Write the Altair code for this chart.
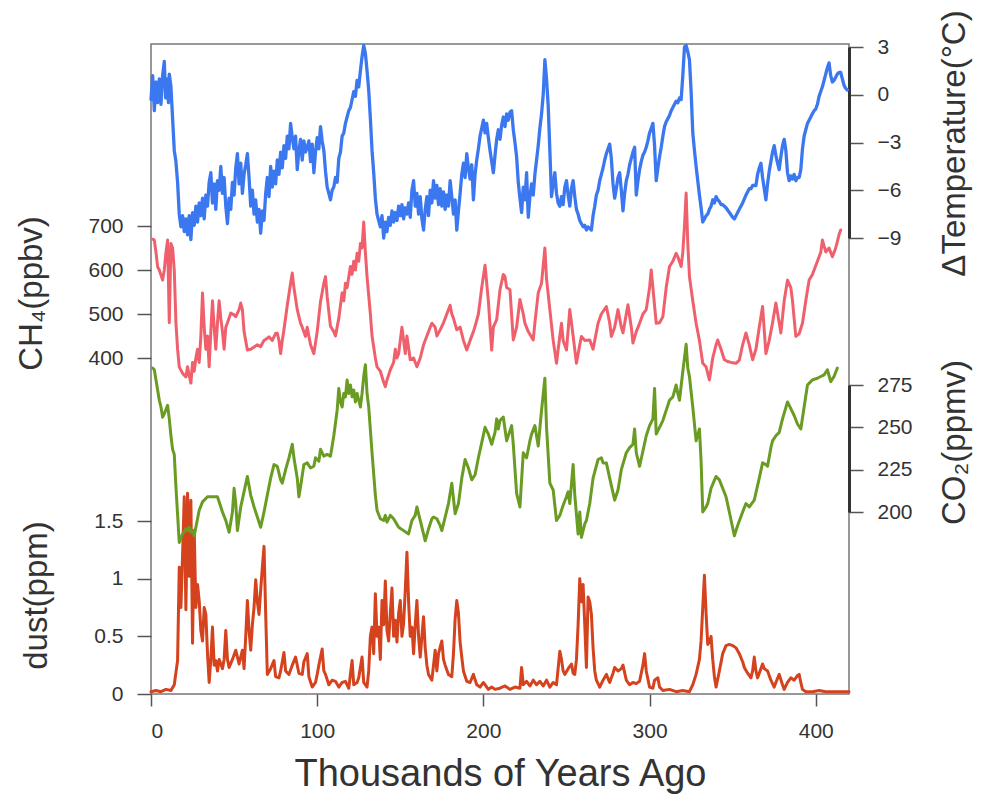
import altair as alt
import pandas as pd

# ---------------- data ----------------
temp_kyr = [0, 1, 2, 3, 4, 5, 6, 7, 8, 8.8, 9.5, 10.5, 11, 12, 13, 14, 15, 16, 17, 18, 19, 20,
            21, 22, 23, 24, 25, 26, 27, 28, 29, 30, 31, 32, 33, 34, 35, 36, 37, 38, 39, 40,
            41, 42, 43, 44, 45, 46, 47, 48, 49, 50, 51, 52, 53, 54, 55, 56, 57, 58, 59, 60,
            61, 62, 63, 64, 65, 66, 67, 68, 69, 70, 71, 72, 73, 74, 75, 76, 77, 78, 79, 80,
            81, 82, 83, 84, 85, 86, 87, 88, 89, 90, 91, 92, 93, 94, 95, 96, 97, 98, 99, 100,
            101, 102, 103, 104, 105, 106, 107, 108, 109, 110, 111, 112, 113, 114, 115, 116, 117, 118, 119, 120,
            121, 122, 123, 124, 125, 126, 127, 128, 129, 130, 131, 132, 133, 134, 135, 136, 137, 138, 139, 140,
            141, 142, 143, 144, 145, 146, 147, 148, 149, 150, 151, 152, 153, 154, 155, 156, 157, 158, 159, 160,
            161, 162, 163, 164, 165, 166, 167, 168, 169, 170, 171, 172, 173, 174, 175, 176, 177, 178, 179, 180,
            181, 182, 183, 184, 185, 186, 187, 188, 189, 190, 191, 192, 193, 194, 195, 196, 197, 198, 199, 200,
            201, 202, 203, 204, 205, 206, 207, 208, 209, 210, 211, 212, 213, 214, 215, 216, 217, 218, 219, 220,
            221, 222, 223, 224, 225, 226, 227, 228, 229, 230, 231, 232, 233, 234, 235, 236, 237, 238, 239, 240,
            241, 242, 243, 244, 245, 246, 247, 248, 249, 250, 251, 252, 253, 254, 255, 256, 257, 258, 259, 260,
            261, 262, 263, 264, 265, 266, 267, 268, 269, 270, 271, 272, 273, 274, 275, 276, 277, 278, 279, 280,
            281, 282, 283, 284, 285, 286, 287, 288, 289, 290, 291, 292, 293, 294, 295, 296, 297, 298, 299, 300,
            301, 302, 303, 304, 305, 306, 307, 308, 309, 310, 311, 312, 313, 314, 315, 316, 317, 318, 319, 320,
            321, 322, 323, 324, 325, 326, 327, 328, 329, 330, 331, 332, 333, 334, 335, 336, 337, 338, 339, 340,
            341, 342, 343, 344, 346, 348, 350, 351, 352, 354, 356, 358, 360, 361, 362, 364, 365, 366, 367, 368,
            369, 370, 371, 372, 373, 374, 375, 376, 377, 378, 379, 380, 381, 382, 383, 384, 385, 386, 387, 388,
            389, 390, 391, 392, 393, 394, 395, 396, 397, 398, 399, 400, 401, 402, 403, 404, 405, 406, 407, 408,
            409, 410, 411, 412, 413, 414, 415, 416, 417, 418, 419]
temp_val = [-0.3, 1.2, -1.0, 0.8, -0.5, 1.0, -0.6, 1.2, 2.1, -0.2, 1.0, -0.5, 1.3, 0.5, -1.5, -3.5, -4.2, -5.5, -7.5, -8.3, -7.6, -8.6,
            -7.8, -8.8, -7.6, -9.1, -7.4, -8.2, -7.0, -8.0, -6.8, -7.6, -6.5, -7.8, -6.3, -7.0, -5.5, -4.9, -6.8, -5.6, -7.2, -5.4,
            -6.0, -4.5, -6.2, -5.2, -7.0, -8.1, -6.5, -7.2, -5.5, -6.3, -4.6, -3.7, -5.6, -4.3, -6.2, -5.0, -4.4, -3.7, -5.2, -7.0,
            -6.0, -7.5, -6.6, -8.0, -7.2, -8.7, -7.3, -7.9, -6.2, -5.2, -6.4, -4.5, -5.8, -4.8, -5.6, -4.1, -5.0, -3.6, -4.6, -3.2,
            -4.0, -2.6, -3.4, -1.8, -2.7, -3.4, -2.6, -4.7, -3.5, -2.8, -4.1, -2.9, -3.6, -3.3, -2.9, -4.2, -3.1, -4.9, -3.6, -2.7,
            -3.4, -2.0, -2.9, -3.5, -4.8, -5.8, -6.2, -6.6, -6.0, -5.8, -5.2, -5.5, -4.0, -3.6, -2.6, -2.4, -1.8, -1.4, -1.0, -0.8,
            -0.3, 0.2, -0.1, 0.9, 0.5, 1.5, 2.4, 3.1, 2.6, 1.5, 0.3, -1.5, -3.5, -4.9, -6.5, -7.5, -7.9, -8.3, -7.6, -9.0,
            -8.0, -8.6, -7.7, -8.2, -7.3, -8.0, -7.4, -7.9, -7.0, -7.6, -6.9, -7.8, -7.1, -7.5, -6.8, -7.7, -6.0, -5.4, -7.0, -6.2,
            -7.5, -6.4, -7.8, -8.5, -7.2, -6.4, -7.6, -6.0, -6.8, -5.4, -6.5, -5.7, -6.9, -5.9, -7.0, -6.1, -7.2, -6.3, -7.0, -5.4,
            -6.4, -7.5, -6.6, -8.5, -7.3, -6.2, -5.0, -4.3, -5.2, -3.7, -4.6, -5.3, -4.4, -6.6, -5.0, -4.1, -3.4, -2.6, -2.1, -1.6,
            -2.4, -1.8, -2.7, -3.5, -4.2, -4.9, -3.8, -2.8, -2.2, -2.8, -1.9, -1.4, -2.0, -1.2, -1.6, -1.1, -1.0, -2.2, -3.0, -3.9,
            -5.5, -6.5, -7.4, -5.8, -6.6, -4.9, -7.7, -6.4, -5.6, -6.3, -5.0, -4.1, -3.2, -2.1, -1.2, 0.0, 2.2, 1.0, -0.7, -3.5,
            -6.4, -5.6, -4.9, -6.2, -6.8, -7.0, -6.4, -6.9, -5.8, -5.4, -6.3, -7.0, -5.9, -5.4, -6.4, -7.2, -7.5, -7.9, -8.1, -8.3,
            -8.2, -8.5, -8.3, -8.4, -8.5, -7.6, -7.0, -6.3, -6.0, -5.4, -5.0, -4.6, -4.1, -3.7, -3.4, -3.1, -4.0, -5.6, -6.5, -5.9,
            -5.2, -4.9, -6.0, -7.3, -6.2, -5.4, -5.0, -4.4, -4.0, -3.6, -3.3, -6.3, -5.4, -4.7, -4.2, -3.8, -3.6, -3.3, -2.9, -2.4,
            -2.1, -1.8, -3.2, -5.4, -4.6, -3.9, -3.3, -2.6, -2.0, -1.7, -1.5, -1.3, -1.0, -0.8, -0.6, -0.4, -0.5, -0.2, -0.3, 1.2,
            3.0, 3.1, 2.7, 2.2, 0.2, -2.4, -3.5, -4.5, -5.4, -6.3, -7.1, -8.0, -7.8, -7.6, -7.5, -7.2, -7.0, -6.6, -6.8, -6.4,
            -6.6, -6.7, -6.9, -6.9, -7.1, -7.4, -7.7, -7.8, -7.6, -7.2, -6.8, -6.3, -5.9, -5.9, -5.7, -5.7, -5.0, -4.6, -4.3, -5.2,
            -5.9, -6.6, -5.6, -4.8, -4.2, -3.6, -3.2, -3.8, -4.3, -4.7, -3.9, -3.2, -2.8, -3.5, -4.9, -5.4, -5.1, -5.3, -5.0, -5.4,
            -5.2, -5.2, -4.7, -3.4, -2.6, -2.2, -1.8, -1.6, -1.4, -1.2, -1.0, -0.9, -0.6, -0.1, 0.2, 0.5, 0.9, 1.3, 1.7, 2.0,
            1.2, 0.8, 0.9, 1.1, 1.3, 1.4, 1.4, 1.0, 0.6, 0.4, 0.3]

ch4_kyr = [1, 2, 3, 4, 5, 7, 8, 9, 10, 11, 12, 13, 14, 15, 16, 17, 19, 21, 22, 23, 24, 25, 26, 27, 28, 29, 30,
           31, 32, 33, 34, 35, 36, 37, 38, 39, 40, 41, 42, 43, 44, 45, 46, 48, 50, 51, 53, 54, 55, 56, 58, 60,
           62, 64, 66, 68, 70, 71, 73, 75, 76, 77, 78, 79, 80, 82, 84, 85, 86, 88, 90, 91, 93, 94, 96, 98, 100,
           102, 104, 105, 106, 108, 110, 111, 113, 115, 116, 117, 118, 120, 121, 122, 123, 124, 125, 126, 127,
           128, 129, 130, 132, 133, 135, 136, 138, 140, 141, 142, 144, 146, 147, 148, 149, 150, 151, 152, 153,
           154, 156, 158, 160, 162, 164, 166, 168, 169, 171, 172, 174, 176, 178, 180, 181, 182, 184, 186, 188,
           190, 192, 194, 195, 197, 199, 201, 203, 205, 206, 208, 210, 212, 213, 214, 216, 218, 220, 222, 224,
           225, 227, 230, 231, 233, 235, 237, 238, 240, 242, 244, 245, 247, 248, 250, 252, 254, 256, 258, 259,
           261, 264, 266, 269, 271, 274, 276, 277, 279, 281, 283, 284, 286, 287, 289, 290, 292, 294, 296, 298,
           300, 301, 302, 304, 306, 308, 310, 312, 314, 316, 317, 319, 320, 321, 322, 323, 324, 326, 328, 330,
           332, 334, 336, 338, 340, 341, 343, 345, 347, 349, 352, 354, 356, 358, 360, 362, 364, 366, 368, 370,
           372, 374, 376, 378, 379, 381, 383, 385, 386, 388, 390, 392, 394, 396, 398, 399, 401, 403, 404, 406,
           408, 410, 412, 414, 415]
ch4_val = [670, 668, 640, 607, 600, 577, 600, 640, 668, 480, 660, 650, 600, 480, 420, 380, 365, 357, 380, 360, 343, 390, 370, 400, 420, 390, 450,
           548, 470, 420, 450, 380, 460, 530, 470, 420, 480, 530, 490, 460, 420, 470, 480, 502, 498, 494, 510, 525, 510, 460, 418, 420,
           425, 430, 426, 440, 445, 448, 440, 456, 456, 440, 410, 440, 464, 520, 570, 593, 560, 510, 479, 470, 449, 470, 430, 410, 460,
           528, 570, 585, 540, 472, 460, 450, 490, 548, 530, 570, 560, 608, 590, 620, 600, 638, 620, 660, 650,
           709, 640, 585, 500, 450, 400, 380, 370, 345, 335, 350, 373, 390, 420, 400, 410, 440, 470, 440, 410,
           450, 396, 400, 380, 400, 430, 450, 470, 479, 470, 450, 464, 480, 500, 520, 500, 490, 464, 470, 440,
           418, 440, 460, 472, 500, 560, 611, 530, 418, 470, 487, 555, 590, 585, 560, 555, 441, 470, 533, 500,
           479, 460, 441, 480, 548, 570, 650, 580, 510, 440, 388, 420, 479, 440, 418, 510, 450, 388, 430, 449,
           440, 441, 420, 479, 500, 517, 480, 449, 470, 510, 470, 457, 500, 521, 470, 434, 460, 479, 500, 510,
           560, 600, 560, 479, 480, 494, 560, 608, 620, 638, 630, 608, 640, 700, 775, 660, 585, 530, 479, 440,
           388, 380, 350, 400, 430, 441, 420, 396, 392, 390, 388, 395, 430, 457, 430, 396, 420, 470, 517, 410,
           440, 480, 525, 480, 457, 530, 577, 560, 530, 449, 455, 479, 530, 577, 590, 600, 620, 640, 668, 641,
           650, 630, 650, 680, 691]

co2_kyr = [1, 2, 3, 5, 6, 7, 8, 10, 11, 12, 13, 14, 15, 17, 19, 21, 22, 23, 24, 25, 26, 29, 31, 34, 37, 40,
           43, 45, 47, 49, 50, 51, 52, 54, 56, 58, 60, 62, 64, 66, 68, 70, 72, 74, 76, 78, 79, 81, 83, 85, 86,
           88, 89, 90, 92, 94, 96, 98, 99, 101, 102, 104, 106, 108, 110, 112, 113, 114, 115, 116, 117, 118, 119,
           120, 121, 122, 123, 124, 125, 126, 127, 128, 129, 130, 131, 133, 135, 136, 138, 140, 141, 142, 144,
           146, 149, 152, 155, 157, 159, 160, 162, 165, 167, 169, 170, 172, 174, 175, 177, 179, 181, 183, 185,
           187, 189, 191, 193, 195, 197, 199, 201, 203, 205, 207, 208, 209, 210, 212, 214, 217, 218, 220, 222,
           224, 226, 228, 229, 231, 233, 235, 237, 238, 240, 242, 244, 246, 248, 250, 251, 252, 254, 255, 257,
           258, 259, 261, 262, 264, 266, 269, 271, 272, 274, 276, 279, 281, 283, 286, 288, 290, 291, 292, 294,
           296, 298, 300, 302, 303, 304, 306, 308, 310, 312, 314, 316, 317, 318, 320, 322, 323, 324, 326, 328,
           330, 331, 332, 334, 335, 337, 340, 342, 344, 346, 348, 351, 353, 356, 358, 360, 363, 366, 368, 370,
           371, 373, 374, 376, 378, 380, 383, 385, 387, 389, 391, 393, 395, 398, 401, 403, 405, 407, 409, 411, 413]
co2_val = [285, 284, 278, 266, 262, 256, 258, 263, 255, 245, 237, 234, 215, 182, 187, 190, 189, 191, 188, 189, 186, 201, 206, 209, 209, 209,
           200, 195, 188, 200, 214, 205, 189, 203, 212, 221, 210, 203, 197, 191, 200, 210, 220, 228, 227, 219, 217, 225, 232, 240, 232,
           220, 209, 215, 228, 229, 226, 227, 232, 230, 237, 233, 234, 233, 245, 260, 273, 265, 262, 270, 268, 278, 270,
           275, 268, 272, 265, 270, 266, 262, 270, 280, 287, 270, 262, 235, 210, 201, 196, 195, 198, 194, 198,
           196, 191, 189, 187, 195, 198, 203, 195, 183, 190, 196, 197, 196, 192, 189, 197, 205, 217, 199, 205,
           220, 231, 226, 219, 222, 232, 241, 250, 246, 240, 247, 255, 249, 254, 256, 242, 251, 240, 211, 203,
           235, 232, 242, 246, 251, 239, 260, 279, 250, 217, 213, 195, 198, 204, 209, 212, 205, 228, 210, 187,
           200, 185, 193, 195, 205, 220, 231, 232, 229, 229, 220, 207, 213, 225, 235, 238, 240, 249, 235, 227,
           236, 245, 251, 255, 273, 246, 250, 254, 260, 266, 268, 275, 270, 266, 283, 299, 285, 280, 262, 242,
           249, 230, 200, 203, 205, 214, 221, 219, 214, 209, 200, 186, 192, 200, 205, 203, 207, 220, 229, 228,
           227, 238, 242, 245, 247, 255, 265, 261, 257, 252, 249, 262, 275, 278, 279, 280, 281, 284, 277, 280, 285]

dust_kyr = [0, 3, 6, 9, 12, 14, 16, 17, 18, 19, 20, 21, 22, 23, 24, 25, 26, 27, 28, 29, 30, 31, 32, 33, 34, 35,
            36, 37, 38, 39, 40, 41, 42, 43, 44, 45, 46, 47, 49, 51, 53, 55, 56, 57, 58, 59, 60, 61, 62, 63, 64,
            65, 66, 67, 68, 69, 70, 72, 74, 75, 77, 78, 80, 81, 83, 85, 87, 89, 91, 92, 94, 95, 97, 99, 100, 101,
            103, 104, 105, 107, 109, 111, 113, 115, 117, 119, 121, 122, 124, 125, 127, 128, 130, 131, 132, 133,
            134, 135, 136, 137, 138, 139, 140, 141, 142, 143, 144, 145, 146, 147, 148, 149, 150, 151, 152, 153,
            154, 155, 156, 157, 158, 159, 160, 161, 162, 163, 164, 165, 166, 167, 169, 171, 172, 173, 175, 176,
            177, 179, 181, 182, 183, 184, 185, 186, 187, 188, 190, 192, 194, 196, 198, 200, 203, 205, 207, 210,
            213, 216, 219, 222, 223, 224, 226, 228, 230, 232, 234, 236, 238, 240, 242, 244, 246, 247, 248, 249,
            251, 253, 254, 255, 256, 257, 258, 259, 260, 261, 262, 263, 264, 265, 266, 267, 268, 270, 272, 274,
            276, 278, 279, 281, 283, 284, 286, 288, 290, 292, 294, 296, 297, 298, 300, 302, 303, 305, 306, 308,
            312, 316, 320, 324, 326, 328, 330, 331, 332, 333, 334, 335, 336, 337, 338, 339, 340, 342, 344, 346,
            348, 350, 352, 354, 356, 357, 359, 361, 362, 363, 364, 365, 366, 368, 369, 371, 373, 375, 376, 378,
            380, 381, 383, 385, 387, 389, 390, 391, 392, 394, 398, 402, 406, 410, 415, 420]
dust_val = [0.02, 0.03, 0.02, 0.04, 0.03, 0.08, 0.29, 1.1, 0.75, 1.2, 1.71, 0.73, 1.74, 1.02, 1.68, 0.44, 1.42, 0.75, 0.95, 0.81, 0.55, 0.46, 0.75, 0.69, 0.35, 0.1,
            0.3, 0.58, 0.25, 0.29, 0.2, 0.3, 0.26, 0.22, 0.3, 0.55, 0.3, 0.23, 0.3, 0.38, 0.26, 0.38, 0.22, 0.5, 0.81, 0.55, 0.38, 0.6, 0.75, 0.99, 0.8,
            0.69, 0.9, 1.1, 1.28, 0.7, 0.17, 0.22, 0.29, 0.15, 0.14, 0.2, 0.36, 0.2, 0.17, 0.25, 0.32, 0.18, 0.17, 0.28, 0.35, 0.15, 0.06, 0.1, 0.17, 0.25,
            0.39, 0.2, 0.17, 0.08, 0.12, 0.11, 0.06, 0.1, 0.11, 0.05, 0.29, 0.08, 0.1, 0.14, 0.32, 0.1, 0.06, 0.2, 0.5, 0.58,
            0.35, 0.87, 0.5, 0.58, 0.3, 0.81, 0.6, 0.98, 0.55, 0.46, 0.7, 0.92, 0.5, 0.64, 0.45, 0.7, 0.81, 0.5, 0.61, 0.9,
            1.23, 0.8, 0.5, 0.58, 0.35, 0.6, 0.81, 0.5, 0.32, 0.5, 0.67, 0.4, 0.25, 0.17, 0.12, 0.38, 0.2, 0.35, 0.46, 0.3,
            0.25, 0.17, 0.15, 0.35, 0.65, 0.81, 0.7, 0.45, 0.32, 0.2, 0.11, 0.1, 0.17, 0.08, 0.06, 0.1, 0.04, 0.06, 0.04, 0.05,
            0.07, 0.04, 0.06, 0.05, 0.23, 0.08, 0.11, 0.07, 0.12, 0.08, 0.11, 0.07, 0.12, 0.06, 0.1, 0.08, 0.37, 0.3, 0.2, 0.17,
            0.22, 0.26, 0.18, 0.17, 0.3, 0.6, 1.0, 0.8, 0.95, 0.6, 0.23, 0.84, 0.8, 0.69, 0.4, 0.2, 0.12, 0.06, 0.12, 0.17,
            0.1, 0.18, 0.23, 0.2, 0.22, 0.25, 0.12, 0.08, 0.1, 0.09, 0.11, 0.25, 0.35, 0.2, 0.06, 0.05, 0.12, 0.14, 0.06, 0.03,
            0.04, 0.02, 0.03, 0.02, 0.08, 0.17, 0.3, 0.46, 0.75, 1.03, 0.7, 0.43, 0.45, 0.5, 0.3, 0.15, 0.06, 0.2, 0.35, 0.42,
            0.43, 0.42, 0.4, 0.35, 0.28, 0.23, 0.18, 0.14, 0.2, 0.32, 0.2, 0.14, 0.18, 0.26, 0.22, 0.2, 0.12, 0.06, 0.1, 0.17,
            0.08, 0.04, 0.1, 0.14, 0.12, 0.16, 0.17, 0.1, 0.04, 0.02, 0.02, 0.03, 0.02, 0.02, 0.02, 0.02]

x_ticks = [0, 100, 200, 300, 400]
temp_ticks = [-9, -6, -3, 0, 3]
ch4_ticks = [400, 500, 600, 700]
co2_ticks = [200, 225, 250, 275]
dust_ticks = [0, 0.5, 1, 1.5]

# ---------------- layout / style ----------------
W, H = 698, 650
FONT = "Liberation Sans"
TXT = "#333333"
TICK = "#555555"

# vertical band (in plot-area pixels) occupied by each tick range
TEMP_RANGE = [194, 3]
CH4_RANGE = [314, 182]
CO2_RANGE = [468, 341]
DUST_RANGE = [650, 477]

x_enc = alt.X(
    "kyr:Q",
    scale=alt.Scale(domain=[0, 420], nice=False, zero=False),
    axis=alt.Axis(
        values=x_ticks, title="Thousands of Years Ago", grid=False, domain=False,
        tickSize=12, tickWidth=1.5, tickColor=TICK,
        labelFontSize=21, labelFont=FONT, labelColor=TXT, labelPadding=14,
        titleFontSize=38, titleFont=FONT, titleFontWeight="normal", titleColor=TXT,
        titleY=91, titleBaseline="alphabetic",
    ),
)


def y_axis(orient, ticks, title, title_y, title_x, label_expr=None):
    right = orient == "right"
    extra = {"labelExpr": label_expr} if label_expr else {}
    return alt.Axis(
        orient=orient, values=ticks, title=title, grid=False,
        domain=right, domainColor="#333333", domainWidth=3,
        tickSize=14, tickWidth=1.5, tickColor=TICK,
        labelFontSize=21, labelFont=FONT, labelColor=TXT, labelPadding=14,
        titleFontSize=33, titleFont=FONT, titleFontWeight="normal", titleColor=TXT,
        titleAngle=270, titleAlign="center", titleBaseline="top",
        titleX=title_x, titleY=title_y, **extra,
    )


def series(kyr, vals, color, width, domain, rng, axis):
    df = pd.DataFrame({"kyr": kyr, "v": vals})
    return alt.Chart(df).mark_line(
        color=color, strokeWidth=width, strokeJoin="round", strokeCap="round"
    ).encode(
        x=x_enc,
        y=alt.Y("v:Q", scale=alt.Scale(domain=domain, range=rng, nice=False, zero=False), axis=axis),
    )


temp = series(temp_kyr, temp_val, "#3B78F0", 3.3, [-9, 3], TEMP_RANGE,
              y_axis("right", temp_ticks, "ΔTemperature(°C)", 99, 89))
ch4 = series(ch4_kyr, ch4_val, "#F0606C", 3, [400, 700], CH4_RANGE,
             y_axis("left", ch4_ticks, "CH₄(ppbv)", 249, -136))
dust = series(dust_kyr, dust_val, "#D4421E", 3, [0, 1.5], DUST_RANGE,
              y_axis("left", dust_ticks, "dust(ppm)", 551, -131, label_expr="toString(datum.value)"))
co2 = series(co2_kyr, co2_val, "#6A9B22", 3, [200, 275], CO2_RANGE,
             y_axis("right", co2_ticks, "CO₂(ppmv)", 398, 89))

chart = (
    alt.layer(temp, ch4, dust, co2)
    .resolve_scale(y="independent")
    .properties(
        width=W, height=H,
        autosize=alt.AutoSizeParams(type="none"),
        padding={"left": 151, "top": 44, "right": 143, "bottom": 100},
        background="white",
    )
    .configure_view(stroke="#777777", strokeWidth=1.5)
)

chart.save("out.html", embed_options={"renderer": "svg", "actions": False})
